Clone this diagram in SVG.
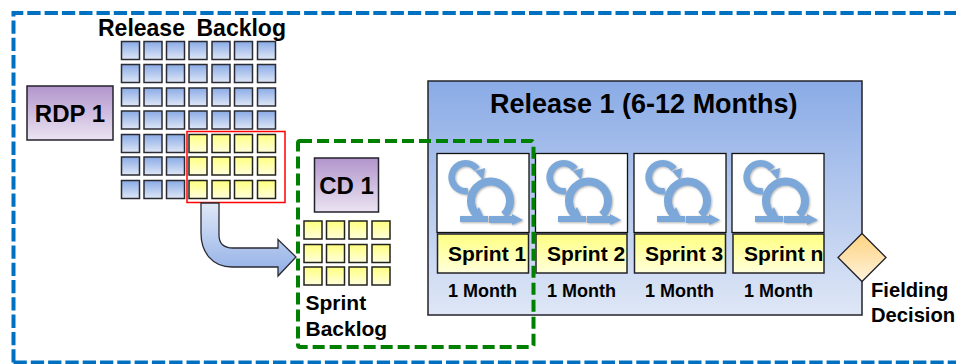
<svg xmlns="http://www.w3.org/2000/svg" width="956" height="364" viewBox="0 0 956 364">
<defs>
<linearGradient id="blue" x1="0" y1="0" x2="0" y2="1"><stop offset="0" stop-color="#8aabe6"/><stop offset="1" stop-color="#dfe7f6"/></linearGradient>
<linearGradient id="yellow" x1="0" y1="0" x2="0" y2="1"><stop offset="0" stop-color="#ffff80"/><stop offset="1" stop-color="#ffffdc"/></linearGradient>
<linearGradient id="purple" x1="0" y1="0" x2="0" y2="1"><stop offset="0" stop-color="#b295cc"/><stop offset="1" stop-color="#ebe4f2"/></linearGradient>
<linearGradient id="orange" x1="0" y1="0" x2="0" y2="1"><stop offset="0" stop-color="#fdd27e"/><stop offset="1" stop-color="#fff3dc"/></linearGradient>
<linearGradient id="arrowfill" x1="0" y1="0" x2="0" y2="1"><stop offset="0" stop-color="#e0e8f7"/><stop offset="1" stop-color="#90aee6"/></linearGradient>
<filter id="soft" x="-10%" y="-10%" width="125%" height="125%"><feDropShadow dx="1" dy="1" stdDeviation="0.8" flood-color="#666" flood-opacity="0.5"/></filter>
<rect id="b" width="18" height="18" fill="url(#blue)" stroke="#2b2b33" stroke-width="1.5"/>
<rect id="y" width="18" height="18" fill="url(#yellow)" stroke="#22221c" stroke-width="1.5"/>
<g id="scrum" filter="url(#soft)">
<path d="M40 16 A14 14 0 1 0 31 38" fill="none" stroke="#7ba7d9" stroke-width="6.500"/>
<path d="M38 18 L48 15 L46 27 Z" fill="#7ba7d9"/>
<path d="M67 62 A19.500 19.500 0 1 0 40 62" fill="none" stroke="#7ba7d9" stroke-width="8"/>
<path d="M23 63 H36 L42 54 L46 63 H51 V69 H23 Z" fill="#7ba7d9"/>
<path d="M52 63 H75 V61 L86 67 L75 72 V70 H52 Z" fill="#7ba7d9"/>
</g>
</defs>
<style>
text{font-family:"Liberation Sans",Arial,sans-serif;font-weight:bold;fill:#000}
.t23{font-size:23px}.t21{font-size:21px}.t18{font-size:18px}
.box{stroke:#22222a;stroke-width:1.5}
.icon{fill:#fff;stroke:#111;stroke-width:1.3}
</style>
<path id="outer-scope" d="M13.500 362.500 V13 H956 M13.500 362.500 H956" fill="none" stroke="#0070c0" stroke-width="4" stroke-dasharray="13.300 4"/>
<g id="release-backlog"><text x="98" y="35.500" class="t23">Release</text><text x="196.500" y="35.500" class="t23">Backlog</text></g>
<g id="rdp1"><rect x="27" y="86" width="86" height="54" fill="url(#purple)" class="box"/><text x="70" y="122" class="t23" style="font-size:24px" text-anchor="middle">RDP 1</text></g>
<g id="backlog-grid">
<use href="#b" x="121.500" y="41.500"/><use href="#b" x="144" y="41.500"/><use href="#b" x="166.500" y="41.500"/><use href="#b" x="189" y="41.500"/><use href="#b" x="212" y="41.500"/><use href="#b" x="234.500" y="41.500"/><use href="#b" x="257.500" y="41.500"/>
<use href="#b" x="121.500" y="64.500"/><use href="#b" x="144" y="64.500"/><use href="#b" x="166.500" y="64.500"/><use href="#b" x="189" y="64.500"/><use href="#b" x="212" y="64.500"/><use href="#b" x="234.500" y="64.500"/><use href="#b" x="257.500" y="64.500"/>
<use href="#b" x="121.500" y="88"/><use href="#b" x="144" y="88"/><use href="#b" x="166.500" y="88"/><use href="#b" x="189" y="88"/><use href="#b" x="212" y="88"/><use href="#b" x="234.500" y="88"/><use href="#b" x="257.500" y="88"/>
<use href="#b" x="121.500" y="111"/><use href="#b" x="144" y="111"/><use href="#b" x="166.500" y="111"/><use href="#b" x="189" y="111"/><use href="#b" x="212" y="111"/><use href="#b" x="234.500" y="111"/><use href="#b" x="257.500" y="111"/>
<use href="#b" x="121.500" y="134.500"/><use href="#b" x="144" y="134.500"/><use href="#b" x="166.500" y="134.500"/><use href="#y" x="189" y="134.500"/><use href="#y" x="212" y="134.500"/><use href="#y" x="234.500" y="134.500"/><use href="#y" x="257.500" y="134.500"/>
<use href="#b" x="121.500" y="157"/><use href="#b" x="144" y="157"/><use href="#b" x="166.500" y="157"/><use href="#y" x="189" y="157"/><use href="#y" x="212" y="157"/><use href="#y" x="234.500" y="157"/><use href="#y" x="257.500" y="157"/>
<use href="#b" x="121.500" y="180.500"/><use href="#b" x="144" y="180.500"/><use href="#b" x="166.500" y="180.500"/><use href="#y" x="189" y="180.500"/><use href="#y" x="212" y="180.500"/><use href="#y" x="234.500" y="180.500"/><use href="#y" x="257.500" y="180.500"/>
</g>
<rect id="selection" x="187" y="131.500" width="98" height="71" fill="none" stroke="#ff0000" stroke-width="1.500"/>
<g id="connectors">
<path d="M201 203 H219 V235 Q219 248 233 248 H278 V239.500 L296 257 L278 276 V267 H232 C212 267 201 252 201 233 Z" fill="url(#arrowfill)" stroke="#2a2a33" stroke-width="1.300"/>
</g>
<g id="release1">
<rect x="428" y="81" width="434" height="234" fill="url(#blue)" class="box"/>
<text x="490" y="113" style="font-size:27px">Release 1 (6-12 Months)</text>
</g>
<g id="cd1"><rect x="314.500" y="158" width="64" height="54" fill="url(#purple)" class="box"/><text x="346.500" y="193.500" style="font-size:24px" text-anchor="middle">CD 1</text></g>
<g id="sprint-backlog-grid">
<use href="#y" x="304" y="221"/><use href="#y" x="326.500" y="221"/><use href="#y" x="349" y="221"/><use href="#y" x="372" y="221"/>
<use href="#y" x="304" y="244.500"/><use href="#y" x="326.500" y="244.500"/><use href="#y" x="349" y="244.500"/><use href="#y" x="372" y="244.500"/>
<use href="#y" x="304" y="267"/><use href="#y" x="326.500" y="267"/><use href="#y" x="349" y="267"/><use href="#y" x="372" y="267"/>
</g>
<text id="sprint-backlog" class="t21"><tspan x="305.500" y="310">Sprint</tspan><tspan x="305.500" y="336">Backlog</tspan></text>
<g id="sprint1"><rect x="437" y="153.500" width="92" height="79" class="icon"/><use href="#scrum" x="437" y="153"/><rect x="437.500" y="234" width="91" height="39" fill="url(#yellow)" class="box"/><text x="448" y="261" class="t21">Sprint 1</text><text x="448" y="297" class="t18">1 Month</text></g>
<g id="sprint2"><rect x="535.500" y="153.500" width="92" height="79" class="icon"/><use href="#scrum" x="535" y="153"/><rect x="536" y="234" width="91" height="39" fill="url(#yellow)" class="box"/><text x="547" y="261" class="t21">Sprint 2</text><text x="547" y="297" class="t18">1 Month</text></g>
<g id="sprint3"><rect x="634" y="153.500" width="92" height="79" class="icon"/><use href="#scrum" x="634" y="153"/><rect x="634.500" y="234" width="91" height="39" fill="url(#yellow)" class="box"/><text x="645" y="261" class="t21">Sprint 3</text><text x="645" y="297" class="t18">1 Month</text></g>
<g id="sprintn"><rect x="732" y="153.500" width="92" height="79" class="icon"/><use href="#scrum" x="732" y="153"/><rect x="733" y="234" width="91" height="39" fill="url(#yellow)" class="box"/><text x="744" y="261" class="t21">Sprint n</text><text x="744" y="297" class="t18">1 Month</text></g>
<g id="fielding-decision"><path d="M862 233.500 L886 257.500 L862 281.500 L838 257.500 Z" fill="url(#orange)" stroke="#22222a" stroke-width="1.300"/><text style="font-size:20.200px"><tspan x="871" y="297">Fielding</tspan><tspan x="871" y="322">Decision</tspan></text></g>
<rect id="cd-scope" x="298" y="141" width="235.500" height="206" rx="2" fill="none" stroke="#008000" stroke-width="4" stroke-dasharray="12 5"/>
</svg>
